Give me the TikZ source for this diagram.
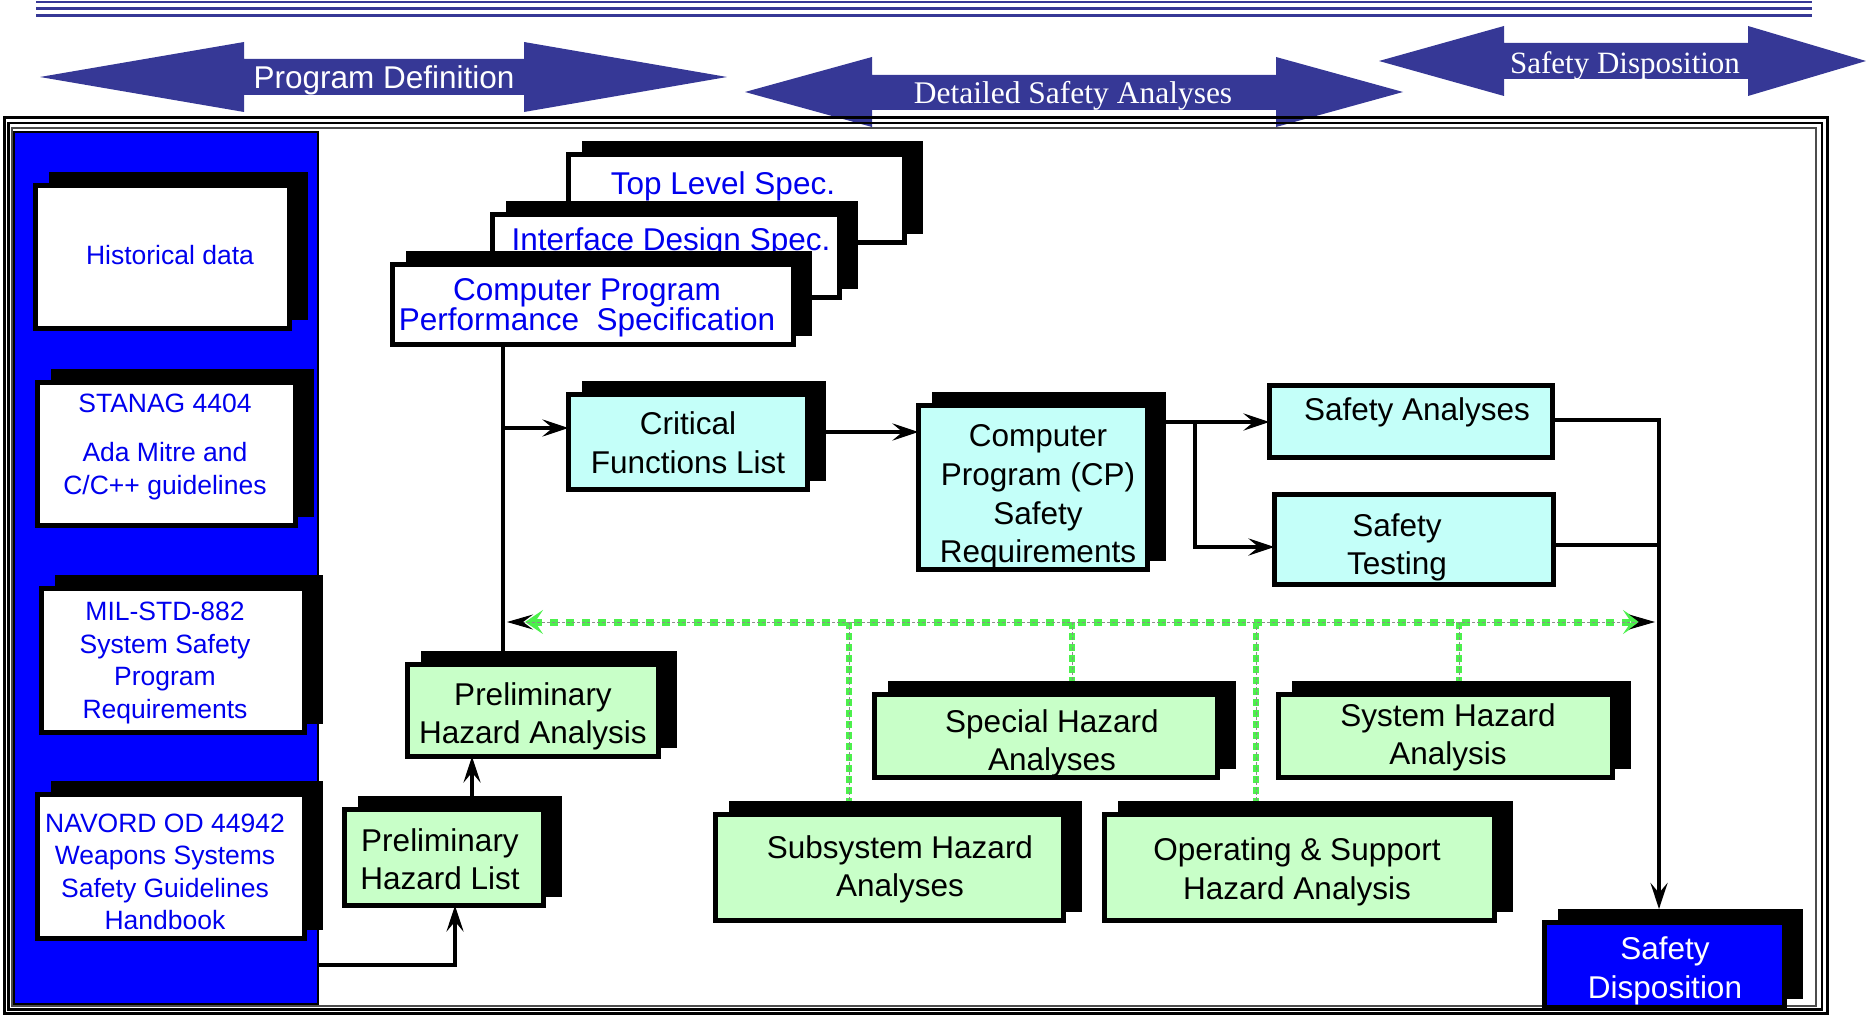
\documentclass[tikz,border=0pt]{standalone}
\usepackage{fontspec}
\setmainfont{Liberation Sans}
\newfontfamily\serifface{Liberation Serif}
\usetikzlibrary{arrows.meta,shadows}
\pgfdeclarelayer{background}
\pgfsetlayers{background,main}

\definecolor{bandblue}{RGB}{54,56,150}
\definecolor{docblue}{RGB}{0,0,238}
\definecolor{panelblue}{RGB}{0,0,255}
\definecolor{reqcyan}{RGB}{196,255,249}
\definecolor{hazgreen}{RGB}{200,255,200}
\definecolor{linkgreen}{RGB}{76,240,76}

\tikzset{
  every node/.style={inner sep=0pt, outer sep=0pt},
  plaincard/.style={rectangle, draw=black, line width=2.5pt},
  card/.style={plaincard,
    general shadow={fill=black, draw=black, line width=2.5pt,
      shadow xshift=8pt, shadow yshift=5.5pt}},
  doc/.style={card, fill=white},
  req/.style={card, fill=reqcyan},
  reqflat/.style={plaincard, fill=reqcyan},
  haz/.style={card, fill=hazgreen},
  verdict/.style={card, fill=panelblue},
  doctext/.style={text=docblue, align=center, text depth=0pt,
    font=\fontsize{13.25}{16.25}\selectfont},
  spectext/.style={text=docblue, align=center, text depth=0pt,
    font=\fontsize{15.75}{15}\selectfont},
  boxtext/.style={text=black, align=center, text depth=0pt,
    font=\fontsize{15.75}{19.25}\selectfont},
  bandtext/.style={text=white, text depth=0pt},
  flow/.style={draw=black, line width=2.4pt},
  flowarrow/.style={flow, -{Stealth[length=13pt,width=8.5pt,inset=5pt]}},
  linkh/.style={draw=linkgreen, line width=3.5pt, dash pattern=on 3.8pt off 4.2pt},
  linkv/.style={draw=linkgreen, line width=3.3pt, dash pattern=on 3.5pt off 2pt},
  linkcore/.style={draw=black!45, line width=0.5pt, dash pattern=on 1.5pt off 1pt},
}

\begin{document}
\begin{tikzpicture}[x=0.5pt, y=-0.5pt]
\useasboundingbox (0,0) rectangle (1866,1015);

% --- title rule -----------------------------------------------------------
\draw[bandblue, line width=1pt]   (36,2.2)  -- (1812,2.2);
\draw[bandblue, line width=1.8pt] (36,8.5)  -- (1812,8.5);
\draw[bandblue, line width=1.3pt] (36,15.5) -- (1812,15.5);

% --- phase arrows -----------------------------------------------------------
\fill[bandblue] (40,77) -- (244,42) -- (244,59) -- (524,59) -- (524,42) -- (727,77)
  -- (524,112) -- (524,95) -- (244,95) -- (244,112) -- cycle;
\node[bandtext, font=\fontsize{15.75}{18}\selectfont] (phasedef) at (384,77.5) {Program Definition};

\fill[bandblue] (745,92) -- (872,57) -- (872,75) -- (1276,75) -- (1276,57) -- (1403,92)
  -- (1276,127) -- (1276,110) -- (872,110) -- (872,127) -- cycle;
\node[bandtext, font=\serifface\fontsize{15.75}{18}\selectfont] (phasedet) at (1073,92) {Detailed Safety Analyses};

\fill[bandblue] (1379,61) -- (1504,26) -- (1504,43) -- (1748,43) -- (1748,26) -- (1866,61)
  -- (1748,96) -- (1748,79) -- (1504,79) -- (1504,96) -- cycle;
\node[bandtext, font=\serifface\fontsize{15.5}{18}\selectfont] (phasedisp) at (1625,62.5) {Safety Disposition};

% --- triple frame -----------------------------------------------------------
\draw[line width=1.5pt] (4,118) rectangle (1827,1013);
\draw[line width=1.3pt] (8.5,123) rectangle (1822,1009.5);
\draw[line width=0.6pt, black!70] (12,128) rectangle (1816,1006);

% --- source documents panel -------------------------------------------------
\node[draw=black, line width=1pt, fill=panelblue, minimum width=152pt, minimum height=436pt]
  (panel) at (166,568) {};

\node[doc, minimum width=127pt, minimum height=71.5pt] (hist) at (162.5,257) {};
\node[doctext] (histtext) at (170,255) {Historical data};

\node[doc, minimum width=129pt, minimum height=71.5pt] (stanag) at (166.5,454) {};
\node[doctext] (stanagtext) at (165,444) {STANAG 4404\\[8.25pt]Ada Mitre and\\C/C++ guidelines};

\node[doc, minimum width=131.5pt, minimum height=72pt] (mil) at (173,660.5) {};
\node[doctext] (miltext) at (165,660) {MIL-STD-882\\System Safety\\Program\\Requirements};

\node[doc, minimum width=133.5pt, minimum height=72pt] (navord) at (171,866.5) {};
\node[doctext] (navordtext) at (165,871.5) {NAVORD OD 44942\\Weapons Systems\\Safety Guidelines\\Handbook};

% --- specification stack ------------------------------------------------------
\node[doc, minimum width=168pt, minimum height=44pt] (tls) at (736.5,198.5) {};
\node[spectext] (tlstext) at (723,183) {Top Level Spec.};

\node[doc, minimum width=173.5pt, minimum height=41.5pt] (ids) at (666,256) {};
\node[spectext] (idstext) at (671,239) {Interface Design Spec.};

\node[doc, minimum width=200.5pt, minimum height=40pt] (cpps) at (593,304.5) {};
\node[spectext] (cppstext) at (587,305) {Computer Program\\Performance~~Specification};

% --- requirements and analyses ---------------------------------------------------
\node[req, minimum width=119.5pt, minimum height=47.5pt] (cfl) at (688,442) {};
\node[boxtext] (cfltext) at (688,442.5) {Critical\\Functions List};

\node[req, minimum width=114.5pt, minimum height=82pt] (cpsr) at (1033,487.5) {};
\node[boxtext, font=\fontsize{15.75}{19.5}\selectfont] (cpsrtext) at (1038,493.5)
  {Computer\\Program (CP)\\Safety\\Requirements};

\node[reqflat, minimum width=141.5pt, minimum height=36pt] (sa) at (1411,421.5) {};
\node[boxtext] (satext) at (1417,409) {Safety Analyses};

\node[reqflat, minimum width=139.5pt, minimum height=45pt] (st) at (1414,539.5) {};
\node[boxtext] (sttext) at (1397,544) {Safety\\Testing};

% --- hazard analyses ------------------------------------------------------------
\node[haz, minimum width=125.5pt, minimum height=46pt] (pha) at (533,710.5) {};
\node[boxtext] (phatext) at (533,713) {Preliminary\\Hazard Analysis};

\node[haz, minimum width=99.5pt, minimum height=48pt] (phl) at (444,857.5) {};
\node[boxtext] (phltext) at (440,859) {Preliminary\\Hazard List};

\node[haz, minimum width=171.5pt, minimum height=41.5pt] (sha) at (1046,736) {};
\node[boxtext] (shatext) at (1052,740) {Special Hazard\\Analyses};

\node[haz, minimum width=167pt, minimum height=41.5pt] (sys) at (1445.5,736) {};
\node[boxtext] (systext) at (1448,734) {System Hazard\\Analysis};

\node[haz, minimum width=174pt, minimum height=53pt] (ssha) at (889.5,867.5) {};
\node[boxtext] (sshatext) at (900,866) {Subsystem Hazard\\Analyses};

\node[haz, minimum width=195pt, minimum height=53pt] (oas) at (1299.5,867.5) {};
\node[boxtext] (oastext) at (1297,868.5) {Operating \& Support\\Hazard Analysis};

\node[verdict, minimum width=120pt, minimum height=42.5pt] (sd) at (1664.5,965) {};
\node[boxtext, text=white] (sdtext) at (1665,967.5) {Safety\\Disposition};

% --- hazard feedback bus (behind the cards) ----------------------------------------
\coordinate (busL) at (507,622);
\coordinate (busR) at (1655,622);
\coordinate (dropA) at (849,622);
\coordinate (dropB) at (1072,622);
\coordinate (dropC) at (1256,622);
\coordinate (dropD) at (1459,622);
\begin{pgfonlayer}{background}
  \draw[linkv] (dropA) -- (dropA |- ssha.north);
  \draw[linkv] (dropB) -- (dropB |- sha.north);
  \draw[linkv] (dropC) -- (dropC |- oas.north);
  \draw[linkv] (dropD) -- (dropD |- sys.north);
  \draw[linkcore] (dropA) -- (dropA |- ssha.north);
  \draw[linkcore] (dropB) -- (dropB |- sha.north);
  \draw[linkcore] (dropC) -- (dropC |- oas.north);
  \draw[linkcore] (dropD) -- (dropD |- sys.north);
\end{pgfonlayer}
\draw[linkh, {Stealth[length=9pt,width=12pt,inset=4pt]}-{Stealth[length=9pt,width=12pt,inset=4pt]}]
  ([xshift=9pt]busL) -- ([xshift=-7pt]busR);
\draw[linkcore, {Stealth[length=13pt,width=7.5pt,inset=5pt,black]}-{Stealth[length=13pt,width=7.5pt,inset=5pt,black]}]
  (busL) -- (busR);

% --- flow connectors ----------------------------------------------------------------
\coordinate (spine) at (503,428);
\draw[flow] (cpps.south -| spine) -- (pha.north -| spine);
\draw[flowarrow] (spine) -- (spine -| cfl.west);

\draw[flowarrow] (cfl.east |- 0,432) -- (cpsr.west |- 0,432);

\coordinate (fork) at (1195,422);
\draw[flow] (cpsr.east |- fork) -- (fork);
\draw[flowarrow] (fork) -- (fork -| sa.west);
\draw[flowarrow] (fork) |- (st.west |- 0,547);

\coordinate (sdtip) at (1659,909);
\draw[flowarrow] (sa.east |- 0,420) -| (sdtip);
\draw[flow] (st.east |- 0,545) -- (sdtip |- 0,545);

\draw[flowarrow] (phl.north -| 472,0) -- (pha.south -| 472,0);
\draw[flowarrow] (panel.east |- 0,965) -| (phl.south -| 455,0);

\end{tikzpicture}
\end{document}
